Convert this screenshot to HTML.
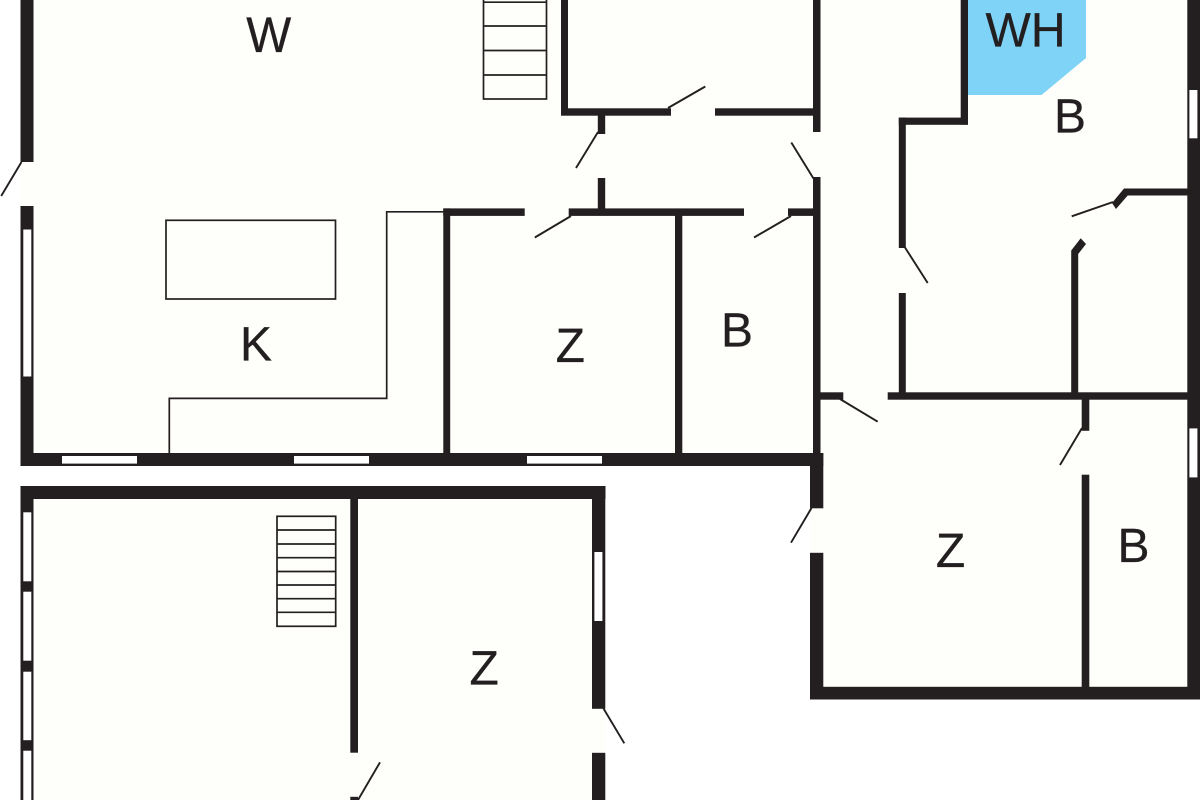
<!DOCTYPE html>
<html><head><meta charset="utf-8"><style>
html,body{margin:0;padding:0;background:#fff;width:1200px;height:800px;overflow:hidden}
svg{display:block}
text{font-family:"Liberation Sans",sans-serif;font-size:48px;fill:#231f20;stroke:#231f20;stroke-width:.3px;text-anchor:middle}
</style></head><body>
<svg width="1200" height="800" viewBox="0 0 1200 800" xmlns="http://www.w3.org/2000/svg">
<rect width="1200" height="800" fill="#fff"/>
<g fill="#fefefa">
<rect x="20.5" y="0" width="1179.5" height="466"/>
<rect x="810" y="466" width="390" height="233.5"/>
<rect x="20.5" y="486" width="585" height="314"/>
</g>
<polygon points="968,0 1086,0 1086,58 1041.500,95 968,95" fill="#7fd3f7"/>
<g fill="#231f20">
<!-- top-left building -->
<rect x="20.5" y="0" width="13" height="162"/>
<rect x="20.500" y="206" width="13" height="260"/>
<rect x="20.500" y="453" width="802.800" height="13"/>
<rect x="561" y="0" width="7" height="115.500"/>
<rect x="561" y="108.300" width="110" height="7.400"/>
<rect x="715" y="108.300" width="98" height="7.400"/>
<rect x="813" y="0" width="7.500" height="132"/>
<rect x="813" y="177" width="7.500" height="276"/>
<rect x="597.800" y="115" width="7.400" height="19"/>
<rect x="597.800" y="178" width="7.400" height="31"/>
<rect x="443.300" y="208.400" width="81.400" height="7.500"/>
<rect x="568.700" y="208.400" width="175.300" height="7.500"/>
<rect x="788" y="208.400" width="26" height="7.500"/>
<rect x="443.300" y="208.400" width="6.900" height="245"/>
<rect x="675" y="215" width="7.300" height="238"/>
<!-- right building -->
<rect x="960.700" y="0" width="7.300" height="124.700"/>
<rect x="898.800" y="117.600" width="69.200" height="7.200"/>
<rect x="898.800" y="117.600" width="7" height="130.400"/>
<rect x="898.800" y="293" width="7" height="100"/>
<rect x="1187.300" y="0" width="12.700" height="699.500"/>
<polygon points="1124,188.500 1187.500,188.500 1187.500,195.500 1127.700,195.500 1116,209 1112,203"/>
<polygon points="1080.700,238.300 1086,244 1078.200,254 1078.200,393 1071.200,393 1071.200,250.500"/>
<rect x="820" y="392.300" width="23.300" height="7.400"/>
<rect x="887.700" y="392.300" width="300" height="7.400"/>
<rect x="810" y="453" width="13.300" height="55.300"/>
<rect x="810" y="552.800" width="13.300" height="146.700"/>
<rect x="810" y="686.800" width="390" height="12.700"/>
<rect x="1081.700" y="399" width="7.600" height="31.800"/>
<rect x="1081.700" y="474.700" width="7.600" height="213"/>
<!-- lower building -->
<rect x="20.500" y="486" width="585" height="13"/>
<rect x="20.500" y="486" width="13" height="314"/>
<rect x="592" y="486" width="13.300" height="222.800"/>
<rect x="592" y="752.800" width="13.300" height="47.200"/>
<rect x="350.300" y="498" width="7.700" height="254.700"/>
<rect x="350.300" y="796.800" width="7.700" height="3.200"/>
</g>
<!-- windows -->
<g fill="#fff">
<rect x="23.300" y="229.500" width="8" height="147"/>
<rect x="62" y="456" width="75" height="7.600"/>
<rect x="294" y="456" width="75" height="7.600"/>
<rect x="527" y="456" width="75" height="7.600"/>
<rect x="1189.400" y="90" width="8" height="48.300"/>
<rect x="1189.400" y="428.400" width="8" height="49"/>
<rect x="23.300" y="512.300" width="8" height="69"/>
<rect x="23.300" y="591.700" width="8" height="69"/>
<rect x="23.300" y="671.700" width="8" height="68.500"/>
<rect x="23.300" y="750.700" width="8" height="50"/>
<rect x="594.400" y="552" width="8" height="69"/>
</g>
<!-- door leaves -->
<g stroke="#231f20" stroke-width="1.900" fill="none">
<line x1="21.500" y1="162" x2="1.200" y2="196"/>
<line x1="668" y1="108" x2="705.300" y2="86.500"/>
<line x1="598" y1="132" x2="576" y2="168"/>
<line x1="813.500" y1="178.500" x2="791.300" y2="142.500"/>
<line x1="571" y1="216" x2="534.800" y2="237.500"/>
<line x1="791" y1="216" x2="754" y2="237.500"/>
<line x1="905" y1="247.500" x2="927.700" y2="283"/>
<line x1="1113" y1="202" x2="1071.700" y2="216.300"/>
<line x1="840" y1="399" x2="877.700" y2="421.700"/>
<line x1="1082" y1="428" x2="1060" y2="465"/>
<line x1="811.500" y1="508" x2="791" y2="542.700"/>
<line x1="358" y1="800" x2="380" y2="762.300"/>
<line x1="603.500" y1="708.500" x2="624.300" y2="743.300"/>
</g>
<!-- thin outlines -->
<g stroke="#231f20" stroke-width="1.700" fill="none">
<rect x="166" y="220.300" width="169.500" height="78.700"/>
<polyline points="443.500,211.800 386.700,211.800 386.700,398.400 169.300,398.400 169.300,453"/>
<rect x="483.500" y="-1" width="63" height="100"/>
<line x1="483.500" y1="2.200" x2="546.500" y2="2.200"/>
<line x1="483.500" y1="26" x2="546.500" y2="26"/>
<line x1="483.500" y1="50.500" x2="546.500" y2="50.500"/>
<line x1="483.500" y1="75" x2="546.500" y2="75"/>
<rect x="277" y="516.300" width="58.700" height="110"/>
<line x1="277" y1="530" x2="335.700" y2="530"/>
<line x1="277" y1="544" x2="335.700" y2="544"/>
<line x1="277" y1="557.700" x2="335.700" y2="557.700"/>
<line x1="277" y1="571.500" x2="335.700" y2="571.500"/>
<line x1="277" y1="585" x2="335.700" y2="585"/>
<line x1="277" y1="598.700" x2="335.700" y2="598.700"/>
<line x1="277" y1="612.300" x2="335.700" y2="612.300"/>
</g>
<!-- labels -->
<text x="268.700" y="52" style="font-size:50px" textLength="45" lengthAdjust="spacingAndGlyphs">W</text>
<text x="1025.500" y="46.500">WH</text>
<text x="1070" y="132.500">B</text>
<text x="256" y="360.700">K</text>
<text x="570.300" y="362">Z</text>
<text x="737" y="346.700">B</text>
<text x="950.500" y="567">Z</text>
<text x="1133.500" y="562">B</text>
<text x="484.200" y="684.700">Z</text>
</svg>
</body></html>
